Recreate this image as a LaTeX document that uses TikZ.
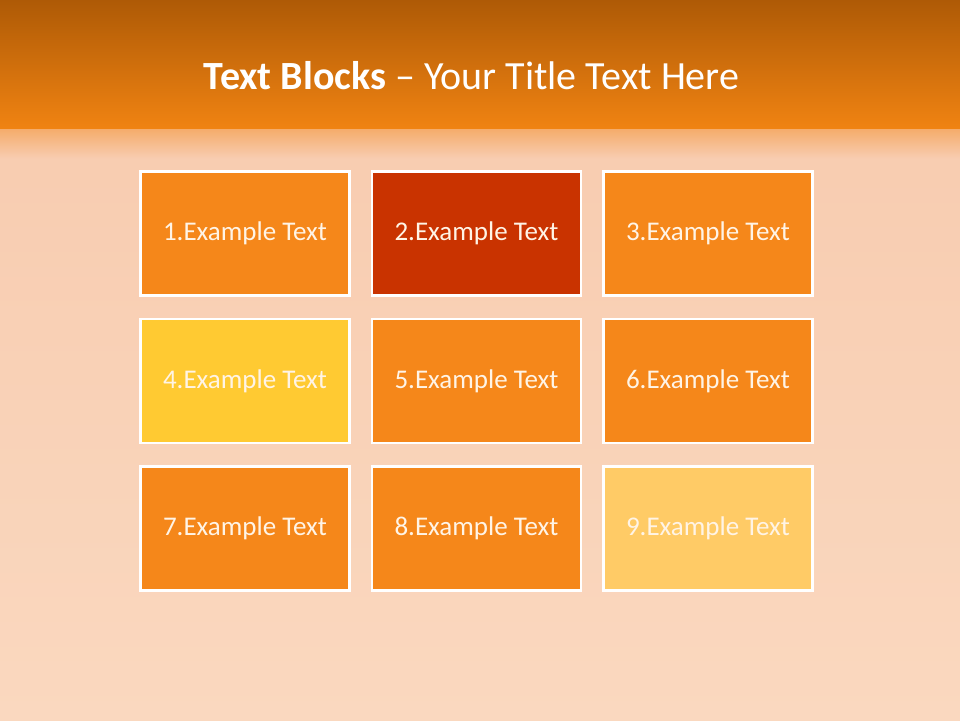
\documentclass[tikz,border=0pt]{standalone}
\usepackage{fontspec}
\setmainfont{Carlito}
\usepackage{tikz}
\usetikzlibrary{positioning}
\definecolor{bandtop}{HTML}{AE5A06}
\definecolor{bandbot}{HTML}{F08312}
\definecolor{silk}{HTML}{F8CCB0}
\definecolor{silklight}{HTML}{FAD8BF}
\definecolor{blockorange}{HTML}{F5871A}
\definecolor{blockred}{HTML}{C93300}
\definecolor{blockyellow}{HTML}{FFCA32}
\definecolor{blocksand}{HTML}{FFCB66}
\definecolor{blocktext}{HTML}{FFF4E6}

\begin{document}
\begin{tikzpicture}[x=1pt,y=-1pt,
  block/.style={draw=white,line width=2.5pt,minimum width=209pt,minimum height=124pt,
    inner sep=0pt,text=blocktext,font=\fontsize{27}{32}\selectfont},
  titletext/.style={text=white,font=\fontsize{40}{46}\selectfont}]
\useasboundingbox (0,0) rectangle (960,720);
% background
\fill[top color=silk,bottom color=silklight] (0,128) rectangle (960,720);
\fill[top color=silk!55!bandbot,bottom color=silk] (0,128) rectangle (960,158);
\fill[top color=bandtop,bottom color=bandbot] (0,0) rectangle (960,128);
\node[titletext] (title) at (471.5,76) {\textbf{Text Blocks} – Your Title Text Here};
% blocks
\foreach \n/\bx/\by/\c in {1/245/233.5/blockorange,2/476.5/233.5/blockred,3/708/233.5/blockorange,
  4/245/381/blockyellow,5/476.5/381/blockorange,6/708/381/blockorange,
  7/245/528.5/blockorange,8/476.5/528.5/blockorange,9/708/528.5/blocksand}{
  \node[block,fill=\c] (b\n) at (\bx,\by) {\n.Example Text};
}
\end{tikzpicture}
\end{document}
